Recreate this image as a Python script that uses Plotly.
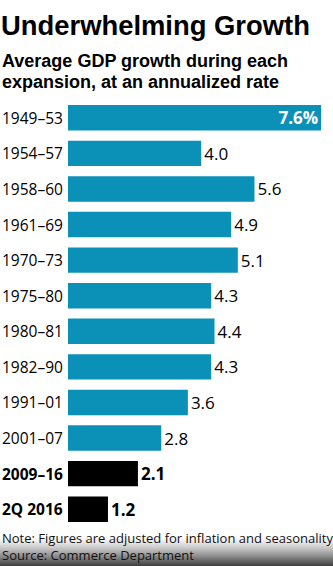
import plotly.graph_objects as go

# ---- data ----
periods = ["1949–53", "1954–57", "1958–60", "1961–69", "1970–73", "1975–80",
           "1980–81", "1982–90", "1991–01", "2001–07", "2009–16", "2Q 2016"]
growth = [7.6, 4.0, 5.6, 4.9, 5.1, 4.3, 4.4, 4.3, 3.6, 2.8, 2.1, 1.2]
highlight = [False] * 10 + [True, True]

title_text = "Underwhelming Growth"
subtitle_lines = ["Average GDP growth during each", "expansion, at an annualized rate"]
note_text = "Note: Figures are adjusted for inflation and seasonality"
source_text = "Source: Commerce Department"

# ---- style / layout ----
W, H = 333, 566
ML, MR, MT, MB = 68, 0, 100, 39
PW, PH = W - ML - MR, H - MT - MB
PX_PER_UNIT = 33.3
BLUE = "#0b91b8"
FONT = "Open Sans"
HEAD_FONT = "Liberation Sans"


def py(ypix):
    return (H - MB - ypix) / PH


def px(xpix):
    return (xpix - ML) / PW


colors = ["#000000" if h else BLUE for h in highlight]
labels = []
positions = []
for i, (v, h) in enumerate(zip(growth, highlight)):
    if i == 0:
        labels.append(f"<b>{v:.1f}%</b>")
        positions.append("inside")
    elif h:
        labels.append(f"<b>{v:.1f}</b>")
        positions.append("outside")
    else:
        labels.append(f"{v:.1f}")
        positions.append("outside")

fig = go.Figure(go.Bar(
    x=growth, y=periods, orientation="h",
    marker=dict(color=colors, line=dict(width=0)),
    text=labels, textposition=positions,
    insidetextanchor="end",
    insidetextfont=dict(color="white", size=17, family=FONT),
    outsidetextfont=dict(color="black", size=17, family=FONT),
    cliponaxis=False, constraintext="none",
    hoverinfo="skip",
))

annotations = []
for p, h in zip(periods, highlight):
    annotations.append(dict(
        text=f"<b>{p}</b>" if h else p,
        xref="paper", x=px(0), xanchor="left",
        yref="y", y=p, yanchor="middle",
        showarrow=False, font=dict(size=15.5, color="black", family=FONT),
    ))

annotations.append(dict(text=f"<b>{title_text}</b>", xref="paper", x=px(-1), xanchor="left",
                        yref="paper", y=py(25), yanchor="middle", showarrow=False,
                        font=dict(size=27.4, color="black", family=HEAD_FONT)))
annotations.append(dict(text=f"<b>{subtitle_lines[0]}</b>", xref="paper", x=px(0), xanchor="left",
                        yref="paper", y=py(61), yanchor="middle", showarrow=False,
                        font=dict(size=18, color="black", family=HEAD_FONT)))
annotations.append(dict(text=f"<b>{subtitle_lines[1]}</b>", xref="paper", x=px(0), xanchor="left",
                        yref="paper", y=py(81.5), yanchor="middle", showarrow=False,
                        font=dict(size=18, color="black", family=HEAD_FONT)))
annotations.append(dict(text=f"{note_text}<br>{source_text}", xref="paper", x=px(0), xanchor="left",
                        yref="paper", y=py(546), yanchor="middle", showarrow=False, align="left",
                        font=dict(size=13, color="#111111", family=FONT)))

# bottom shading strips
shapes = []
y0 = 537
for k in range(H - y0):
    t = (k + 1) / (H - y0)
    g = int(round(255 - 190 * t ** 1.3))
    shapes.append(dict(type="rect", xref="paper", yref="paper",
                       x0=px(0), x1=px(W), y0=py(y0 + k + 1), y1=py(y0 + k),
                       fillcolor=f"rgb({g},{g},{g})", line=dict(width=0), layer="below"))

fig.update_layout(
    width=W, height=H,
    margin=dict(l=ML, r=MR, t=MT, b=MB, pad=0),
    paper_bgcolor="white", plot_bgcolor="white",
    showlegend=False, bargap=0.284,
    xaxis=dict(range=[0, PW / PX_PER_UNIT], visible=False, fixedrange=True),
    yaxis=dict(categoryorder="array", categoryarray=periods, range=[11.5, -0.5],
               showticklabels=False, showgrid=False, zeroline=False, fixedrange=True),
    annotations=annotations, shapes=shapes,
    uniformtext=dict(mode=False),
)

fig.write_html("out.html", config={"displayModeBar": False})
